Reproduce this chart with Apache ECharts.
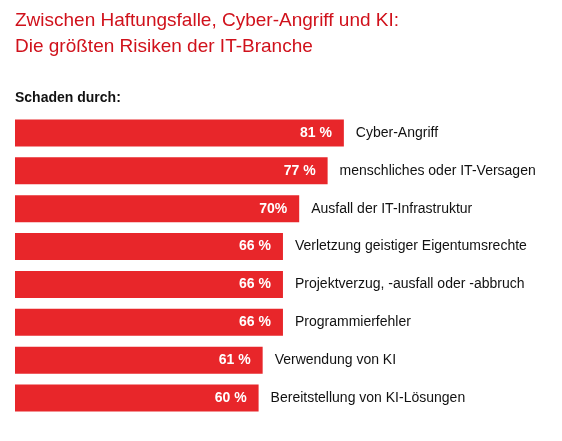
<!DOCTYPE html>
<html><head><meta charset="utf-8">
<script src="https://cdn.jsdelivr.net/npm/echarts@6/dist/echarts.min.js"></script>
<style>html,body{margin:0;padding:0;background:#fff}#c{width:562px;height:441px}</style>
</head><body><div id="c"></div>
<script>
const categories = ["Cyber-Angriff","menschliches oder IT-Versagen","Ausfall der IT-Infrastruktur","Verletzung geistiger Eigentumsrechte","Projektverzug, -ausfall oder -abbruch","Programmierfehler","Verwendung von KI","Bereitstellung von KI-Lösungen"];
const values = [81,77,70,66,66,66,61,60];
const valueLabels = ["81 %","77 %","70%","66 %","66 %","66 %","61 %","60 %"];
const chart = echarts.init(document.getElementById('c'));
chart.setOption({
  animation:false,
  title:[{text:"Zwischen Haftungsfalle, Cyber-Angriff und KI:\nDie größten Risiken der IT-Branche",left:15,top:8,padding:0,
    textStyle:{color:'#d0111b',fontSize:19,fontWeight:'normal',lineHeight:26,fontFamily:'Liberation Sans'}},
    {text:"Schaden durch:",left:15,top:91,padding:0,textStyle:{color:'#111',fontSize:14,fontWeight:'bold',fontFamily:'Liberation Sans'}}],
  grid:{left:15,right:141,top:114,bottom:24},
  xAxis:{type:'value',min:0,max:100,show:false},
  yAxis:{type:'category',data:categories,inverse:true,show:false},
  series:[
    {type:'bar',data:values,barWidth:27,itemStyle:{color:'#e8262a'},
     label:{show:true,position:'insideRight',distance:12,color:'#fff',fontWeight:'bold',fontSize:14,fontFamily:'Liberation Sans',
       formatter:p=>valueLabels[p.dataIndex]}},
    {type:'bar',data:values,barWidth:27,barGap:'-100%',itemStyle:{color:'transparent'},
     label:{show:true,position:'right',distance:12,color:'#111',fontSize:14,fontFamily:'Liberation Sans',
       formatter:p=>categories[p.dataIndex]}}
  ]
});
</script></body></html>
